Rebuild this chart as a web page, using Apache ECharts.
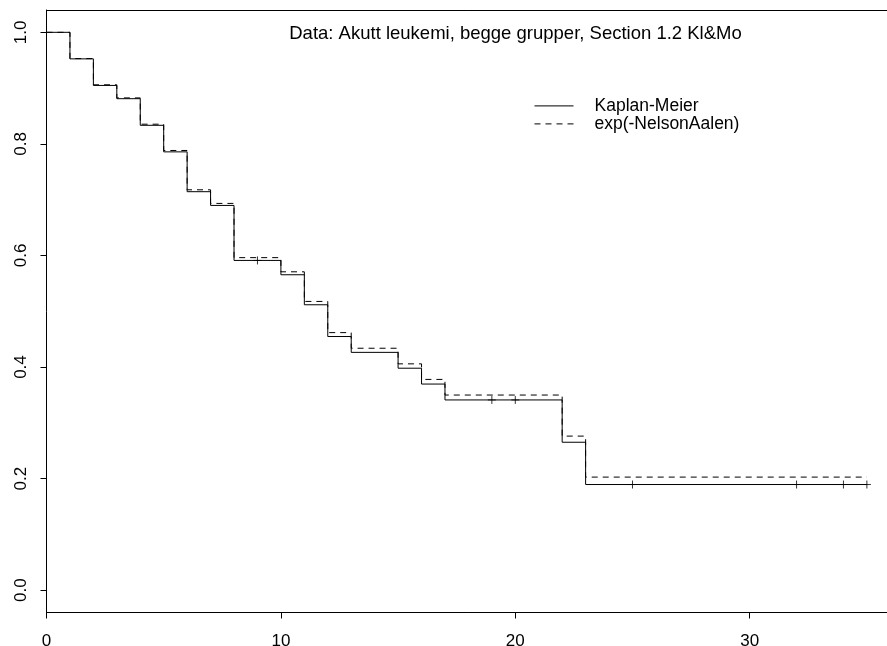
<!DOCTYPE html>
<html>
<head>
<meta charset="utf-8">
<title>Kaplan-Meier vs exp(-NelsonAalen)</title>
<script src="https://cdn.jsdelivr.net/npm/echarts@6/dist/echarts.min.js"></script>
<style>
  html, body { margin: 0; padding: 0; background: #fff; }
  #main { width: 887px; height: 646px; }
</style>
</head>
<body>
<div id="main"></div>
<script>
// tidspunkter der kurvene hopper (siste punkt = slutt på oppfølging)
var times = [0, 1, 2, 3, 4, 5, 6, 7, 8, 10, 11, 12, 13, 15, 16, 17, 22, 23, 35];
// Kaplan-Meier
var kmValues = [1, 0.9524, 0.9048, 0.8810, 0.8333, 0.7857, 0.7143, 0.6897, 0.5911, 0.5654,
                0.5116, 0.4547, 0.4263, 0.3979, 0.3695, 0.3410, 0.2652, 0.1894, 0.1894];
// exp(-NelsonAalen)
var naValues = [1, 0.9529, 0.9059, 0.8824, 0.8353, 0.7882, 0.7177, 0.6933, 0.5961, 0.5707,
                0.5176, 0.4617, 0.4337, 0.4057, 0.3778, 0.3498, 0.2762, 0.2027, 0.2027];
// sensurerte observasjoner (merket med +)
var censTimes = [9, 19, 20, 25, 32, 34, 35];
var censValues = [0.5911, 0.3410, 0.3410, 0.1894, 0.1894, 0.1894, 0.1894];

var xTicks = [0, 10, 20, 30];
var yTicks = [0, 0.2, 0.4, 0.6, 0.8, 1.0];
var seriesNames = ['Kaplan-Meier', 'exp(-NelsonAalen)'];
var titleText = 'Data: Akutt leukemi, begge grupper, Section 1.2 Kl&Mo';

var font = "'Liberation Sans', Arial, Helvetica, sans-serif";

function pairs(xs, ys) {
	var out = [];
	for (var i = 0; i < xs.length; i++) out.push([xs[i], ys[i]]);
	return out;
}

var myChart = echarts.init(document.getElementById('main'));

var option = {
	animation: false,
	backgroundColor: '#fff',
	textStyle: { fontFamily: font },
	grid: {
		show: false,
		left: 46.5,
		top: 10,
		width: 853.2,   // høyre kant av boksen ligger utenfor bildet
		bottom: 33.5,
		outerBoundsMode: 'none',
		containLabel: false
	},
	legend: {
		orient: 'vertical',
		left: 534,
		top: 96.9,
		padding: 0,
		itemWidth: 39,
		itemHeight: 18.3,
		itemGap: 0,
		data: seriesNames,
		itemStyle: { color: 'transparent', borderColor: 'transparent', borderWidth: 0 },
		lineStyle: { width: 1 },
		textStyle: {
			color: '#000',
			fontSize: 17.5,
			lineHeight: 18,
			fontFamily: font,
			padding: [0, 0, 0, 16]
		}
	},
	graphic: [{
		type: 'text',
		x: 515.5,
		y: 33.5,
		style: {
			text: titleText,
			align: 'center',
			verticalAlign: 'middle',
			fontSize: 18.5,
			fontFamily: font,
			fill: '#000'
		}
	}],
	xAxis: [{
		type: 'value',
		position: 'bottom',
		min: 0,
		max: 36.4,
		splitLine: { show: false },
		axisLine: { show: true, onZero: false, lineStyle: { color: '#000', width: 1 } },
		axisTick: {
			show: true,
			inside: false,
			length: 6,
			customValues: xTicks,
			lineStyle: { color: '#000', width: 1 }
		},
		axisLabel: {
			customValues: xTicks,
			margin: 20,
			color: '#000',
			fontSize: 17,
			fontFamily: font
		}
	}, {
		// toppkant av boksen
		type: 'value',
		position: 'top',
		min: 0,
		max: 36.4,
		splitLine: { show: false },
		axisLine: { show: true, onZero: false, lineStyle: { color: '#000', width: 1 } },
		axisTick: { show: false },
		axisLabel: { show: false }
	}],
	yAxis: {
		type: 'value',
		min: -0.04,
		max: 1.04,
		splitLine: { show: false },
		axisLine: { show: true, onZero: false, lineStyle: { color: '#000', width: 1 } },
		axisTick: {
			show: true,
			inside: false,
			length: 6,
			customValues: yTicks,
			lineStyle: { color: '#000', width: 1 }
		},
		axisLabel: {
			customValues: yTicks,
			rotate: 90,
			margin: 17,
			color: '#000',
			fontSize: 17,
			fontFamily: font,
			formatter: function (v) { return v.toFixed(1); }
		}
	},
	series: [
		{
			name: seriesNames[1],
			type: 'line',
			step: 'end',
			symbol: 'none',
			data: pairs(times, naValues),
			lineStyle: { color: '#000', width: 1, type: [6, 5] },
			itemStyle: { color: '#000' },
			z: 2
		},
		{
			name: seriesNames[0],
			type: 'line',
			step: 'end',
			symbol: 'none',
			data: pairs(times, kmValues),
			lineStyle: { color: '#000', width: 1, type: 'solid' },
			itemStyle: { color: '#000' },
			z: 3
		},
		{
			name: 'sensurert',
			type: 'scatter',
			symbol: 'path://M5,0 L5,10 M0,5 L10,5',
			symbolSize: 8,
			data: pairs(censTimes, censValues),
			itemStyle: { color: 'none', borderColor: '#000', borderWidth: 1 },
			z: 4
		}
	]
};

myChart.setOption(option);
</script>
</body>
</html>
